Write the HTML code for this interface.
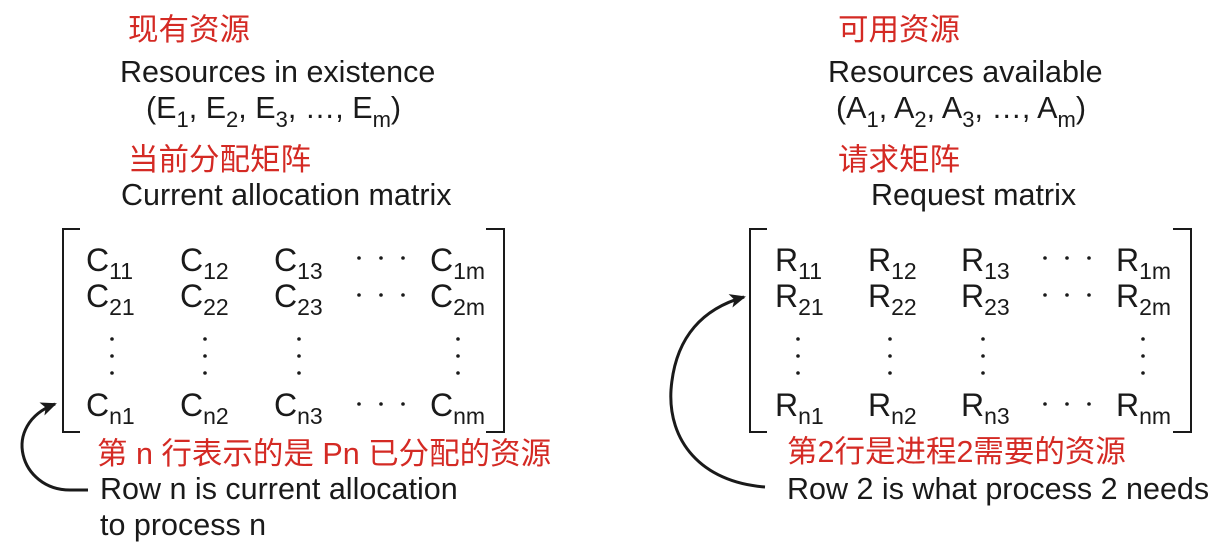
<!DOCTYPE html>
<html><head><meta charset="utf-8"><style>
body{margin:0;background:#fff}
svg text{font-family:"Liberation Sans","Noto Sans CJK SC",sans-serif;font-size:30.5px;fill:#1a1a1a}
.r{fill:#d42a24}
.s{font-size:22px}
.m{font-size:32px}
.ms{font-size:23px}
</style></head><body>
<svg width="1225" height="546" viewBox="0 0 1225 546" xmlns="http://www.w3.org/2000/svg">
<defs><marker id="ah" markerWidth="16" markerHeight="14" refX="14" refY="7" orient="auto" markerUnits="userSpaceOnUse"><path d="M0,0 L16,7 L0,14 L4,7 Z" fill="#1a1a1a"/></marker></defs>
<text class="r" x="128" y="40">现有资源</text>
<text x="120" y="82">Resources in existence</text>
<text x="146" y="118">(E<tspan class="s" dy="9">1</tspan><tspan dy="-9">, E</tspan><tspan class="s" dy="9">2</tspan><tspan dy="-9">, E</tspan><tspan class="s" dy="9">3</tspan><tspan dy="-9">, …, E</tspan><tspan class="s" dy="9">m</tspan><tspan dy="-9">)</tspan></text>
<text class="r" x="128" y="170">当前分配矩阵</text>
<text x="121" y="205">Current allocation matrix</text>
<text class="r" x="838" y="40">可用资源</text>
<text x="828" y="82">Resources available</text>
<text x="836" y="118">(A<tspan class="s" dy="9">1</tspan><tspan dy="-9">, A</tspan><tspan class="s" dy="9">2</tspan><tspan dy="-9">, A</tspan><tspan class="s" dy="9">3</tspan><tspan dy="-9">, …, A</tspan><tspan class="s" dy="9">m</tspan><tspan dy="-9">)</tspan></text>
<text class="r" x="838" y="170">请求矩阵</text>
<text x="871" y="205">Request matrix</text>
<g fill="none" stroke="#1a1a1a" stroke-width="2">
<path d="M80,229 H63 V432 H80"/><path d="M486,229 H504 V432 H486"/>
<path d="M767,229 H750 V432 H767"/><path d="M1173,229 H1191 V432 H1173"/>
</g>
<g fill="none" stroke="#1a1a1a" stroke-width="3">
<path d="M88,490 H70 C20,490 0,425 55,404" marker-end="url(#ah)"/>
<path d="M765,487 C700,482 668,440 671,390 C675,335 705,308 744,297" marker-end="url(#ah)"/>
</g>
<g>
<text class="m" x="86" y="271">C<tspan class="ms" dy="8">11</tspan></text>
<text class="m" x="180" y="271">C<tspan class="ms" dy="8">12</tspan></text>
<text class="m" x="274" y="271">C<tspan class="ms" dy="8">13</tspan></text>
<text class="m" x="430" y="271">C<tspan class="ms" dy="8">1m</tspan></text>
<text class="m" x="86" y="307">C<tspan class="ms" dy="8">21</tspan></text>
<text class="m" x="180" y="307">C<tspan class="ms" dy="8">22</tspan></text>
<text class="m" x="274" y="307">C<tspan class="ms" dy="8">23</tspan></text>
<text class="m" x="430" y="307">C<tspan class="ms" dy="8">2m</tspan></text>
<text class="m" x="86" y="416">C<tspan class="ms" dy="8">n1</tspan></text>
<text class="m" x="180" y="416">C<tspan class="ms" dy="8">n2</tspan></text>
<text class="m" x="274" y="416">C<tspan class="ms" dy="8">n3</tspan></text>
<text class="m" x="430" y="416">C<tspan class="ms" dy="8">nm</tspan></text>
</g>
<g fill="#1a1a1a">
<circle cx="359" cy="258" r="1.8"/><circle cx="381" cy="258" r="1.8"/><circle cx="403" cy="258" r="1.8"/>
<circle cx="359" cy="295" r="1.8"/><circle cx="381" cy="295" r="1.8"/><circle cx="403" cy="295" r="1.8"/>
<circle cx="359" cy="404" r="1.8"/><circle cx="381" cy="404" r="1.8"/><circle cx="403" cy="404" r="1.8"/>
<circle cx="112" cy="339" r="1.8"/><circle cx="112" cy="356" r="1.8"/><circle cx="112" cy="373" r="1.8"/>
<circle cx="205" cy="339" r="1.8"/><circle cx="205" cy="356" r="1.8"/><circle cx="205" cy="373" r="1.8"/>
<circle cx="299" cy="339" r="1.8"/><circle cx="299" cy="356" r="1.8"/><circle cx="299" cy="373" r="1.8"/>
<circle cx="458" cy="339" r="1.8"/><circle cx="458" cy="356" r="1.8"/><circle cx="458" cy="373" r="1.8"/>
</g>
<g>
<text class="m" x="775" y="271">R<tspan class="ms" dy="8">11</tspan></text>
<text class="m" x="868" y="271">R<tspan class="ms" dy="8">12</tspan></text>
<text class="m" x="961" y="271">R<tspan class="ms" dy="8">13</tspan></text>
<text class="m" x="1116" y="271">R<tspan class="ms" dy="8">1m</tspan></text>
<text class="m" x="775" y="307">R<tspan class="ms" dy="8">21</tspan></text>
<text class="m" x="868" y="307">R<tspan class="ms" dy="8">22</tspan></text>
<text class="m" x="961" y="307">R<tspan class="ms" dy="8">23</tspan></text>
<text class="m" x="1116" y="307">R<tspan class="ms" dy="8">2m</tspan></text>
<text class="m" x="775" y="416">R<tspan class="ms" dy="8">n1</tspan></text>
<text class="m" x="868" y="416">R<tspan class="ms" dy="8">n2</tspan></text>
<text class="m" x="961" y="416">R<tspan class="ms" dy="8">n3</tspan></text>
<text class="m" x="1116" y="416">R<tspan class="ms" dy="8">nm</tspan></text>
</g>
<g fill="#1a1a1a">
<circle cx="1045" cy="258" r="1.8"/><circle cx="1067" cy="258" r="1.8"/><circle cx="1089" cy="258" r="1.8"/>
<circle cx="1045" cy="295" r="1.8"/><circle cx="1067" cy="295" r="1.8"/><circle cx="1089" cy="295" r="1.8"/>
<circle cx="1045" cy="404" r="1.8"/><circle cx="1067" cy="404" r="1.8"/><circle cx="1089" cy="404" r="1.8"/>
<circle cx="798" cy="339" r="1.8"/><circle cx="798" cy="356" r="1.8"/><circle cx="798" cy="373" r="1.8"/>
<circle cx="890" cy="339" r="1.8"/><circle cx="890" cy="356" r="1.8"/><circle cx="890" cy="373" r="1.8"/>
<circle cx="983" cy="339" r="1.8"/><circle cx="983" cy="356" r="1.8"/><circle cx="983" cy="373" r="1.8"/>
<circle cx="1143" cy="339" r="1.8"/><circle cx="1143" cy="356" r="1.8"/><circle cx="1143" cy="373" r="1.8"/>
</g>
<text class="r" x="97" y="464">第 n 行表示的是 Pn 已分配的资源</text>
<text x="100" y="499">Row n is current allocation</text>
<text x="100" y="535">to process n</text>
<text class="r" x="787" y="462">第2行是进程2需要的资源</text>
<text x="787" y="499">Row 2 is what process 2 needs</text>
</svg>
</body></html>
